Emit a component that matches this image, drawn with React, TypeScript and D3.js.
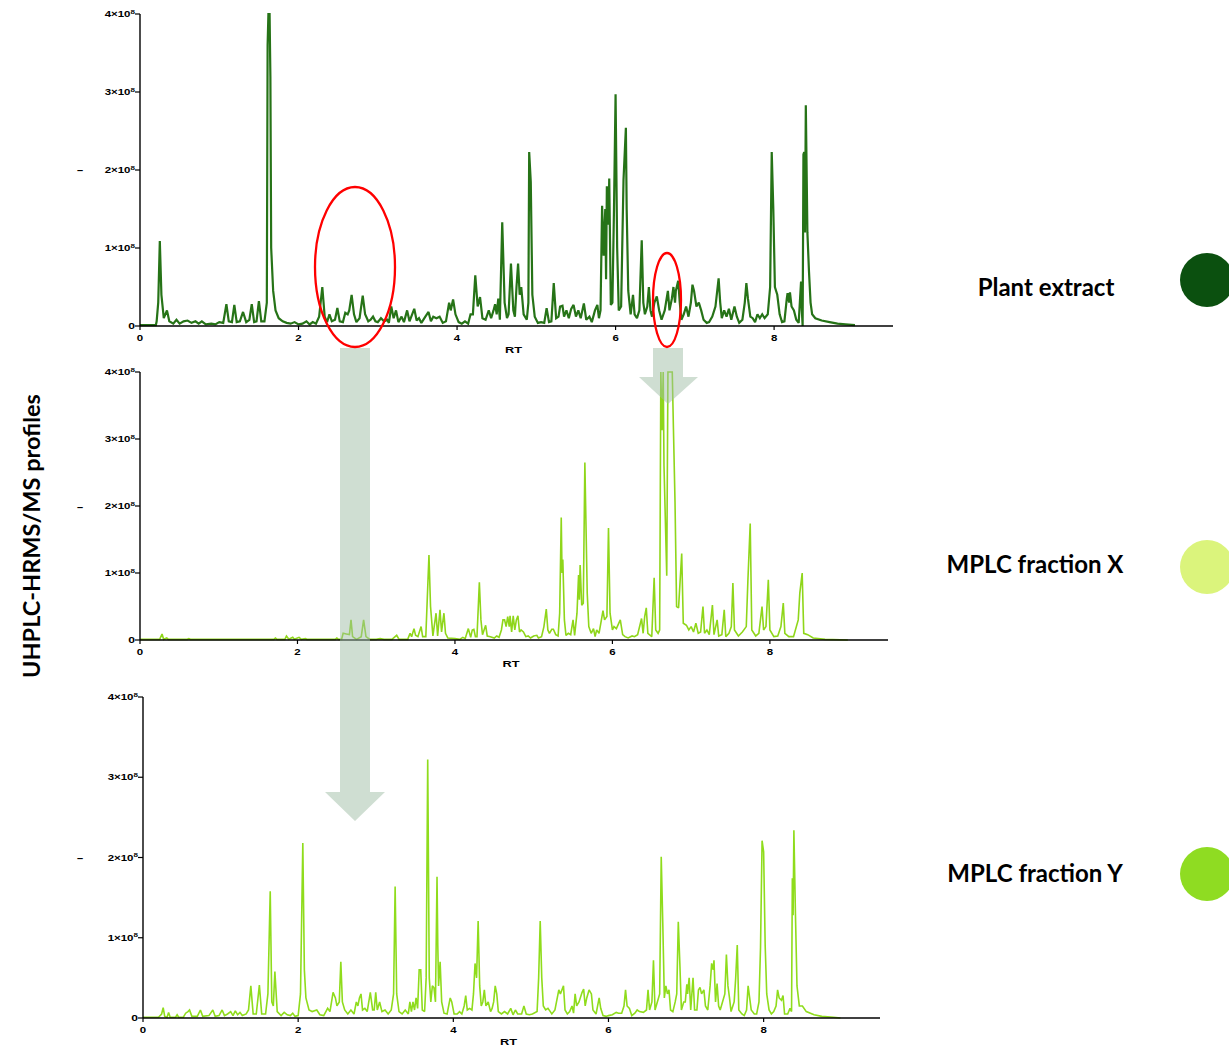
import React from "react";
import * as d3 from "d3";

// ---------- DATA (retention time in min, intensity in units of 1e8) ----------
const plantExtract: [number, number][] = [
  [0,0.01],[0.2,0.01],[0.21,0.06],[0.23,0.3],[0.25,1.09],[0.27,0.4],[0.3,0.1],[0.34,0.2],[0.37,0.06],[0.42,0.03],[0.46,0.08],[0.5,0.03],[0.55,0.06],[0.6,0.07],[0.65,0.04],[0.7,0.06],[0.74,0.03],[0.78,0.06],[0.83,0.02],[0.9,0.03],[0.95,0.02],[1.0,0.05],[1.05,0.04],[1.09,0.28],[1.12,0.06],[1.16,0.05],[1.19,0.27],[1.22,0.05],[1.26,0.06],[1.3,0.18],[1.34,0.05],[1.38,0.08],[1.41,0.28],[1.44,0.05],[1.47,0.06],[1.5,0.32],[1.53,0.06],[1.57,0.06],[1.6,0.3],[1.61,3.6],[1.62,4.0],[1.635,4.0],[1.645,3.2],[1.655,1.0],[1.68,0.45],[1.71,0.2],[1.75,0.1],[1.8,0.06],[1.85,0.04],[1.9,0.03],[1.95,0.05],[2.0,0.02],[2.05,0.03],[2.1,0.06],[2.14,0.02],[2.18,0.05],[2.22,0.03],[2.26,0.12],[2.3,0.5],[2.33,0.12],[2.36,0.05],[2.39,0.15],[2.42,0.06],[2.46,0.08],[2.49,0.23],[2.52,0.06],[2.56,0.05],[2.59,0.17],[2.62,0.15],[2.64,0.2],[2.67,0.4],[2.7,0.15],[2.73,0.05],[2.77,0.1],[2.81,0.39],[2.84,0.15],[2.88,0.06],[2.91,0.08],[2.94,0.12],[2.97,0.06],[3.0,0.05],[3.04,0.1],[3.08,0.06],[3.12,0.08],[3.14,0.04],[3.17,0.25],[3.2,0.1],[3.23,0.2],[3.26,0.05],[3.3,0.12],[3.33,0.05],[3.37,0.2],[3.4,0.06],[3.43,0.14],[3.46,0.22],[3.49,0.07],[3.52,0.1],[3.55,0.04],[3.6,0.12],[3.64,0.18],[3.67,0.06],[3.7,0.12],[3.74,0.1],[3.78,0.12],[3.82,0.04],[3.86,0.06],[3.9,0.3],[3.92,0.2],[3.95,0.34],[3.98,0.15],[4.02,0.05],[4.06,0.03],[4.1,0.06],[4.14,0.03],[4.17,0.15],[4.2,0.15],[4.23,0.65],[4.26,0.25],[4.29,0.37],[4.32,0.1],[4.36,0.08],[4.4,0.2],[4.43,0.1],[4.46,0.2],[4.48,0.28],[4.5,0.15],[4.52,0.35],[4.54,0.08],[4.57,1.33],[4.6,0.3],[4.63,0.1],[4.65,0.15],[4.68,0.8],[4.71,0.2],[4.73,0.12],[4.75,0.5],[4.77,0.8],[4.79,0.4],[4.81,0.5],[4.84,0.15],[4.88,0.08],[4.9,0.3],[4.91,2.23],[4.93,1.85],[4.95,0.4],[4.98,0.12],[5.02,0.04],[5.06,0.05],[5.1,0.04],[5.13,0.23],[5.16,0.05],[5.19,0.06],[5.22,0.55],[5.25,0.1],[5.28,0.12],[5.3,0.25],[5.33,0.26],[5.35,0.12],[5.38,0.2],[5.41,0.1],[5.44,0.22],[5.47,0.27],[5.5,0.12],[5.53,0.2],[5.56,0.1],[5.6,0.29],[5.63,0.08],[5.67,0.12],[5.7,0.05],[5.74,0.2],[5.77,0.27],[5.79,0.1],[5.81,0.2],[5.83,1.54],[5.85,0.9],[5.87,1.5],[5.88,0.6],[5.89,1.79],[5.91,1.3],[5.92,1.89],[5.94,0.27],[5.96,0.3],[5.98,1.5],[6.0,2.97],[6.02,1.0],[6.04,0.2],[6.07,0.25],[6.1,1.87],[6.13,2.54],[6.14,1.5],[6.16,0.45],[6.19,0.15],[6.22,0.4],[6.24,0.15],[6.27,0.1],[6.3,0.2],[6.33,1.1],[6.35,0.3],[6.37,0.15],[6.4,0.25],[6.42,0.5],[6.44,0.2],[6.46,0.12],[6.49,0.3],[6.52,0.38],[6.55,0.2],[6.58,0.08],[6.62,0.2],[6.66,0.45],[6.68,0.2],[6.71,0.35],[6.73,0.5],[6.75,0.3],[6.76,0.45],[6.79,0.58],[6.81,0.3],[6.83,0.08],[6.86,0.15],[6.89,0.25],[6.92,0.12],[6.95,0.3],[6.97,0.53],[6.99,0.45],[7.02,0.25],[7.05,0.3],[7.08,0.2],[7.11,0.08],[7.15,0.04],[7.18,0.05],[7.22,0.12],[7.26,0.25],[7.3,0.61],[7.32,0.3],[7.34,0.1],[7.37,0.2],[7.4,0.12],[7.43,0.22],[7.46,0.08],[7.5,0.25],[7.53,0.12],[7.56,0.04],[7.6,0.08],[7.63,0.3],[7.65,0.55],[7.67,0.35],[7.7,0.12],[7.73,0.1],[7.76,0.05],[7.79,0.15],[7.82,0.1],[7.85,0.15],[7.88,0.1],[7.92,0.15],[7.95,0.5],[7.97,2.23],[7.99,1.5],[8.01,0.5],[8.04,0.4],[8.07,0.15],[8.1,0.05],[8.13,0.06],[8.16,0.35],[8.17,0.42],[8.19,0.3],[8.2,0.43],[8.22,0.25],[8.25,0.2],[8.28,0.08],[8.31,0.04],[8.34,0.57],[8.35,0.2],[8.36,0.0],[8.37,2.2],[8.38,2.23],[8.39,1.2],[8.4,2.83],[8.42,1.2],[8.44,0.7],[8.46,0.3],[8.48,0.15],[8.52,0.1],[8.6,0.07],[8.7,0.05],[8.8,0.03],[8.9,0.02],[9.02,0.01]
];

const fractionX: [number, number][] = [
  [0,0.01],[0.25,0.01],[0.28,0.09],[0.3,0.01],[0.34,0.03],[0.36,0.01],[0.6,0.01],[0.62,0.02],[0.64,0.01],[1.7,0.01],[1.72,0.03],[1.74,0.01],[1.84,0.01],[1.86,0.06],[1.89,0.01],[1.94,0.04],[1.96,0.01],[2.02,0.04],[2.05,0.01],[2.1,0.02],[2.12,0.01],[2.48,0.01],[2.5,0.03],[2.52,0.01],[2.56,0.01],[2.58,0.1],[2.62,0.09],[2.66,0.08],[2.68,0.3],[2.7,0.05],[2.75,0.01],[2.81,0.05],[2.84,0.3],[2.87,0.05],[2.92,0.01],[3.0,0.01],[3.05,0.02],[3.1,0.01],[3.2,0.01],[3.24,0.05],[3.26,0.07],[3.29,0.01],[3.4,0.01],[3.43,0.1],[3.45,0.05],[3.48,0.17],[3.5,0.07],[3.53,0.05],[3.57,0.2],[3.59,0.05],[3.63,0.05],[3.67,1.27],[3.69,0.5],[3.72,0.06],[3.76,0.4],[3.78,0.06],[3.81,0.45],[3.83,0.12],[3.86,0.4],[3.88,0.1],[3.91,0.03],[4.0,0.02],[4.06,0.01],[4.1,0.04],[4.13,0.02],[4.17,0.17],[4.2,0.04],[4.22,0.15],[4.24,0.16],[4.26,0.05],[4.28,0.05],[4.31,0.86],[4.33,0.3],[4.35,0.08],[4.39,0.22],[4.41,0.06],[4.45,0.05],[4.5,0.03],[4.53,0.06],[4.56,0.04],[4.59,0.15],[4.61,0.3],[4.63,0.3],[4.65,0.2],[4.67,0.35],[4.69,0.2],[4.7,0.36],[4.72,0.12],[4.74,0.36],[4.76,0.15],[4.78,0.3],[4.8,0.36],[4.82,0.12],[4.84,0.15],[4.87,0.12],[4.9,0.05],[4.93,0.06],[4.96,0.03],[5.0,0.06],[5.04,0.07],[5.06,0.03],[5.1,0.05],[5.13,0.2],[5.16,0.46],[5.18,0.15],[5.2,0.1],[5.23,0.16],[5.25,0.16],[5.28,0.08],[5.31,0.06],[5.33,0.4],[5.35,1.83],[5.36,1.0],[5.37,1.2],[5.39,0.3],[5.41,0.07],[5.44,0.1],[5.47,0.08],[5.5,0.3],[5.52,0.07],[5.55,0.4],[5.57,0.97],[5.58,0.6],[5.59,1.12],[5.61,0.52],[5.63,0.55],[5.65,2.65],[5.66,2.0],[5.68,0.7],[5.7,0.2],[5.73,0.1],[5.76,0.17],[5.78,0.05],[5.8,0.15],[5.83,0.1],[5.86,0.3],[5.88,0.44],[5.9,0.3],[5.93,0.35],[5.95,1.67],[5.97,0.4],[6.0,0.15],[6.02,0.2],[6.05,0.17],[6.1,0.3],[6.13,0.08],[6.16,0.05],[6.2,0.03],[6.25,0.06],[6.28,0.05],[6.32,0.08],[6.37,0.32],[6.39,0.1],[6.41,0.35],[6.43,0.48],[6.45,0.1],[6.5,0.05],[6.53,0.93],[6.55,0.15],[6.58,0.1],[6.6,0.15],[6.615,4.0],[6.63,3.13],[6.645,4.0],[6.655,2.6],[6.69,0.96],[6.705,4.0],[6.76,4.0],[6.775,3.15],[6.795,2.06],[6.815,0.5],[6.84,0.48],[6.88,1.29],[6.9,0.25],[6.94,0.22],[6.97,0.15],[7.0,0.2],[7.03,0.12],[7.06,0.25],[7.09,0.1],[7.12,0.12],[7.15,0.5],[7.17,0.1],[7.2,0.15],[7.23,0.08],[7.27,0.52],[7.29,0.08],[7.33,0.3],[7.35,0.06],[7.39,0.08],[7.42,0.45],[7.44,0.05],[7.48,0.1],[7.51,0.2],[7.53,0.85],[7.55,0.15],[7.6,0.06],[7.65,0.12],[7.7,0.2],[7.72,0.87],[7.75,1.74],[7.77,0.15],[7.82,0.06],[7.86,0.1],[7.88,0.3],[7.9,0.5],[7.92,0.15],[7.95,0.2],[7.98,0.9],[8.0,0.15],[8.05,0.05],[8.1,0.06],[8.14,0.2],[8.17,0.55],[8.19,0.1],[8.24,0.05],[8.3,0.05],[8.36,0.3],[8.38,0.7],[8.41,1.0],[8.43,0.1],[8.48,0.08],[8.55,0.03],[8.7,0.01],[8.99,0.0]
];

const fractionY: [number, number][] = [
  [0,0.01],[0.2,0.01],[0.24,0.05],[0.26,0.13],[0.28,0.02],[0.31,0.01],[0.33,0.07],[0.35,0.01],[0.42,0.01],[0.44,0.04],[0.46,0.01],[0.52,0.01],[0.55,0.06],[0.58,0.08],[0.6,0.1],[0.63,0.02],[0.7,0.02],[0.74,0.1],[0.77,0.02],[0.85,0.03],[0.9,0.1],[0.93,0.02],[0.98,0.03],[1.02,0.1],[1.05,0.03],[1.09,0.05],[1.13,0.08],[1.16,0.03],[1.19,0.09],[1.22,0.04],[1.25,0.07],[1.28,0.03],[1.33,0.05],[1.36,0.1],[1.39,0.4],[1.42,0.05],[1.46,0.05],[1.5,0.41],[1.53,0.05],[1.58,0.05],[1.61,0.3],[1.64,1.58],[1.66,0.2],[1.68,0.15],[1.7,0.58],[1.73,0.08],[1.78,0.03],[1.82,0.07],[1.86,0.04],[1.9,0.03],[1.93,0.06],[1.96,0.02],[2.0,0.03],[2.03,0.3],[2.06,2.18],[2.08,0.6],[2.1,0.25],[2.14,0.1],[2.18,0.08],[2.24,0.1],[2.28,0.04],[2.33,0.03],[2.38,0.12],[2.41,0.08],[2.45,0.32],[2.48,0.25],[2.5,0.15],[2.53,0.2],[2.55,0.7],[2.57,0.2],[2.6,0.1],[2.64,0.05],[2.68,0.1],[2.72,0.05],[2.75,0.2],[2.77,0.15],[2.79,0.25],[2.81,0.3],[2.83,0.1],[2.86,0.12],[2.89,0.08],[2.93,0.32],[2.96,0.1],[2.98,0.1],[3.0,0.32],[3.02,0.1],[3.05,0.2],[3.08,0.08],[3.12,0.1],[3.16,0.05],[3.2,0.1],[3.23,0.3],[3.25,1.64],[3.27,0.3],[3.3,0.08],[3.34,0.05],[3.38,0.1],[3.42,0.05],[3.44,0.2],[3.46,0.08],[3.48,0.2],[3.5,0.1],[3.52,0.25],[3.54,0.12],[3.56,0.6],[3.58,0.6],[3.6,0.1],[3.63,0.08],[3.65,0.5],[3.67,3.22],[3.69,0.5],[3.71,0.2],[3.73,0.4],[3.75,0.38],[3.77,0.2],[3.79,1.76],[3.8,0.9],[3.81,0.4],[3.83,0.7],[3.85,0.2],[3.88,0.06],[3.92,0.05],[3.96,0.25],[3.98,0.2],[4.01,0.05],[4.05,0.05],[4.08,0.08],[4.11,0.05],[4.14,0.15],[4.16,0.28],[4.18,0.1],[4.21,0.12],[4.24,0.1],[4.26,0.3],[4.28,0.68],[4.3,0.5],[4.32,1.21],[4.34,0.4],[4.36,0.15],[4.38,0.2],[4.4,0.35],[4.42,0.15],[4.45,0.2],[4.48,0.08],[4.5,0.12],[4.52,0.2],[4.54,0.4],[4.56,0.3],[4.58,0.08],[4.62,0.05],[4.66,0.08],[4.7,0.05],[4.74,0.12],[4.77,0.04],[4.8,0.1],[4.83,0.05],[4.88,0.05],[4.91,0.15],[4.94,0.05],[4.98,0.04],[5.02,0.05],[5.08,0.08],[5.1,0.5],[5.12,1.21],[5.14,0.5],[5.16,0.15],[5.19,0.1],[5.22,0.12],[5.25,0.08],[5.27,0.05],[5.31,0.1],[5.36,0.35],[5.38,0.3],[5.42,0.4],[5.44,0.1],[5.47,0.05],[5.5,0.08],[5.53,0.15],[5.55,0.06],[5.57,0.3],[5.59,0.15],[5.62,0.2],[5.66,0.32],[5.68,0.36],[5.7,0.15],[5.72,0.25],[5.75,0.35],[5.78,0.3],[5.8,0.1],[5.84,0.05],[5.86,0.15],[5.88,0.25],[5.9,0.12],[5.93,0.03],[5.97,0.02],[6.0,0.03],[6.05,0.04],[6.1,0.07],[6.13,0.06],[6.17,0.06],[6.2,0.15],[6.22,0.35],[6.24,0.15],[6.27,0.12],[6.3,0.03],[6.34,0.06],[6.37,0.1],[6.4,0.08],[6.45,0.07],[6.49,0.1],[6.51,0.35],[6.53,0.1],[6.56,0.2],[6.58,0.72],[6.6,0.1],[6.63,0.2],[6.66,0.3],[6.68,2.01],[6.7,1.18],[6.72,0.25],[6.74,0.4],[6.76,0.3],[6.78,0.35],[6.8,0.1],[6.83,0.08],[6.86,0.2],[6.88,0.3],[6.9,1.2],[6.92,0.68],[6.94,0.1],[6.97,0.2],[6.99,0.2],[7.01,0.42],[7.02,0.3],[7.04,0.5],[7.06,0.1],[7.09,0.5],[7.11,0.1],[7.14,0.1],[7.16,0.35],[7.18,0.38],[7.2,0.3],[7.23,0.35],[7.25,0.15],[7.28,0.1],[7.31,0.4],[7.33,0.68],[7.35,0.6],[7.36,0.72],[7.38,0.2],[7.4,0.43],[7.42,0.15],[7.44,0.1],[7.47,0.2],[7.5,0.3],[7.52,0.79],[7.54,0.4],[7.56,0.25],[7.58,0.08],[7.62,0.2],[7.64,0.5],[7.66,0.91],[7.68,0.1],[7.72,0.05],[7.75,0.03],[7.78,0.1],[7.8,0.4],[7.82,0.25],[7.84,0.1],[7.88,0.05],[7.91,0.05],[7.94,0.2],[7.96,0.88],[7.98,2.21],[8.0,2.07],[8.02,0.9],[8.04,0.3],[8.07,0.1],[8.1,0.05],[8.13,0.08],[8.16,0.15],[8.18,0.35],[8.2,0.25],[8.23,0.22],[8.25,0.28],[8.27,0.05],[8.31,0.05],[8.34,0.12],[8.36,0.08],[8.37,1.74],[8.38,1.28],[8.39,2.34],[8.41,1.3],[8.43,0.4],[8.46,0.15],[8.5,0.15],[8.55,0.08],[8.65,0.04],[8.75,0.02],[8.9,0.01],[8.99,0.0]
];

const xTicks = [0, 2, 4, 6, 8];
const yTicks = [0, 1, 2, 3, 4];
const xDomain: [number, number] = [0, 9.5];
const yDomain: [number, number] = [0, 4];
const xLabel = "RT";
const yTitle = "UHPLC-HRMS/MS profiles";
const sampleNames = ["Plant extract", "MPLC fraction X", "MPLC fraction Y"];
const sampleColors = ["#0b500f", "#dbf47c", "#8fdc22"];
const lineColors = ["#267317", "#8fd61a", "#8fdc1c"];
const seriesList = [plantExtract, fractionX, fractionY];

// ---------- LAYOUT ----------
const W = 1229;
const H = 1055;
const panels = [
  { left: 140, right: 893, bottom: 326, top: 14, lw: 2.2, legendX: 1046, legendY: 288, circleY: 280, dashY: 170 },
  { left: 140, right: 888, bottom: 640, top: 372, lw: 1.6, legendX: 1035, legendY: 565, circleY: 567, dashY: 507 },
  { left: 143, right: 880, bottom: 1018, top: 697, lw: 1.6, legendX: 1035, legendY: 874, circleY: 874, dashY: 858 },
];

const tickFont = "'Liberation Sans', Arial, Helvetica, sans-serif";
const legendFont = "Lato, 'Open Sans', sans-serif";
const SX = 1.35; // horizontal stretch of the axis lettering

function Panel({ idx }: { idx: number }) {
  const p = panels[idx];
  const data = seriesList[idx];
  const x = d3.scaleLinear().domain(xDomain).range([p.left, p.right]);
  const y = d3.scaleLinear().domain(yDomain).range([p.bottom, p.top]);
  const line = d3
    .line<[number, number]>()
    .x((d) => x(d[0]))
    .y((d) => y(Math.min(d[1], 4)));
  return (
    <g>
      <path d={line(data) || ""} fill="none" stroke={lineColors[idx]} strokeWidth={p.lw} strokeLinejoin="miter" strokeMiterlimit={2} />
      {/* y axis */}
      <line x1={p.left} x2={p.left} y1={y(4)} y2={p.bottom} stroke="#000" strokeWidth={1.4} />
      {yTicks.map((t) => (
        <g key={"y" + t}>
          <line x1={p.left - 5} x2={p.left} y1={y(t)} y2={y(t)} stroke="#000" strokeWidth={1.2} />
          <text
            transform={`translate(${p.left - 5},${y(t) + 3.2}) scale(${SX},1)`}
            textAnchor="end"
            fontFamily={tickFont}
            fontWeight="bold"
            fontSize={t === 0 ? 9 : 8.5}
            fill="#000"
          >
            {t === 0 ? "0" : (
              <>
                {t}×10
                <tspan dy={-3.5} fontSize={6}>8</tspan>
              </>
            )}
          </text>
        </g>
      ))}
      {/* x axis */}
      <line x1={p.left} x2={p.right} y1={p.bottom} y2={p.bottom} stroke="#000" strokeWidth={1.6} />
      {xTicks.map((t) => (
        <g key={"x" + t}>
          <line x1={x(t)} x2={x(t)} y1={p.bottom} y2={p.bottom + 4} stroke="#000" strokeWidth={1.2} />
          <text
            transform={`translate(${x(t)},${p.bottom + 15}) scale(${SX},1)`}
            textAnchor="middle"
            fontFamily={tickFont}
            fontWeight="bold"
            fontSize={8.5}
            fill="#000"
          >
            {t}
          </text>
        </g>
      ))}
      <text
        transform={`translate(${(p.left + p.right) / 2 - 3},${p.bottom + 27}) scale(${SX},1)`}
        textAnchor="middle"
        fontFamily={tickFont}
        fontWeight="bold"
        fontSize={9.5}
        fill="#000"
      >
        {xLabel}
      </text>
      <text x={80} y={p.dashY + 4} textAnchor="middle" fontFamily={tickFont} fontWeight="bold" fontSize={11} fill="#000">
        –
      </text>
      {/* legend */}
      <text x={p.legendX} y={p.legendY + 8} textAnchor="middle" fontFamily={legendFont} fontWeight={700} fontSize={24} fill="#000">
        {sampleNames[idx]}
      </text>
      <circle cx={1207} cy={p.circleY} r={27} fill={sampleColors[idx]} />
    </g>
  );
}

function Arrow({ x0, x1, yTop, yHead, hx0, hx1, yTip }: any) {
  const cx = (x0 + x1) / 2;
  const d = `M${x0},${yTop}L${x1},${yTop}L${x1},${yHead}L${hx1},${yHead}L${cx},${yTip}L${hx0},${yHead}L${x0},${yHead}Z`;
  return <path d={d} fill="rgb(160,190,165)" fillOpacity={0.5} />;
}

export default function App() {
  return (
    <svg width={W} height={H} style={{ position: "absolute", left: 0, top: 0, background: "#fff" }}>
      <rect x={0} y={0} width={W} height={H} fill="#fff" />
      {panels.map((_, i) => (
        <Panel key={i} idx={i} />
      ))}
      <Arrow x0={340} x1={370} yTop={348} yHead={792} hx0={325} hx1={385} yTip={821} />
      <Arrow x0={653} x1={683} yTop={348} yHead={377} hx0={639} hx1={698} yTip={404} />
      <ellipse cx={355} cy={267} rx={40} ry={80} fill="none" stroke="#f00" strokeWidth={2.3} />
      <ellipse cx={667} cy={300} rx={14} ry={47} fill="none" stroke="#f00" strokeWidth={2.3} />
      <text
        transform="translate(40,536) rotate(-90)"
        textAnchor="middle"
        fontFamily={legendFont}
        fontWeight={700}
        fontSize={23.5}
        fill="#000"
      >
        {yTitle}
      </text>
    </svg>
  );
}
